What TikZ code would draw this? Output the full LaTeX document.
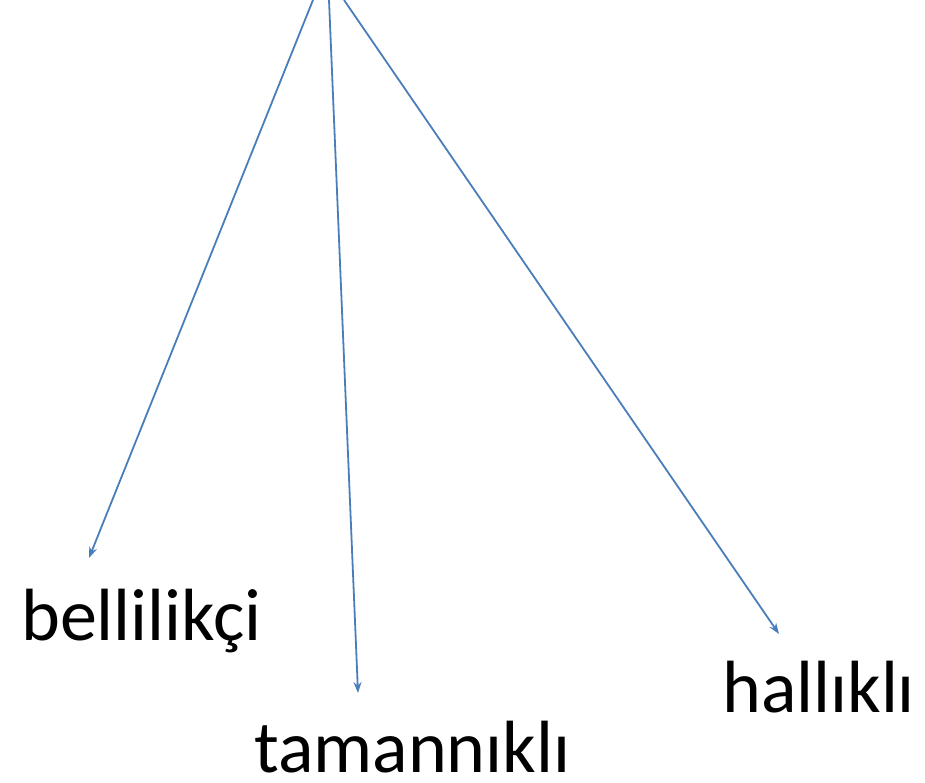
\documentclass[tikz,border=0pt]{standalone}
\usepackage{fontspec}
\setmainfont{Carlito}
\usetikzlibrary{arrows.meta}
\definecolor{lineblue}{HTML}{4A7EBB}
\tikzset{
  conn/.style={draw=lineblue, line width=1.8pt, -{Stealth[length=11pt,width=8pt]}},
  word/.style={anchor=base west, inner sep=0pt, text depth=0pt, font=\fontsize{74}{80}\selectfont, text=black}
}
\begin{document}
\begin{tikzpicture}[x=1pt,y=-1pt]
\useasboundingbox (0,0) rectangle (925,783);
\coordinate (s1) at (313,0);
\coordinate (s2) at (329,0);
\coordinate (s3) at (344,0);
\coordinate (t1) at (89,558);
\coordinate (t2) at (358,693);
\coordinate (t3) at (779,634);
\node[word] (w1) at (21,640) {bellilikçi};
\node[word] (w2) at (254,772) {tamannıklı};
\node[word] (w3) at (722,712) {hallıklı};
\draw[conn] (s1) -- (t1);
\draw[conn] (s2) -- (t2);
\draw[conn] (s3) -- (t3);
\end{tikzpicture}
\end{document}
